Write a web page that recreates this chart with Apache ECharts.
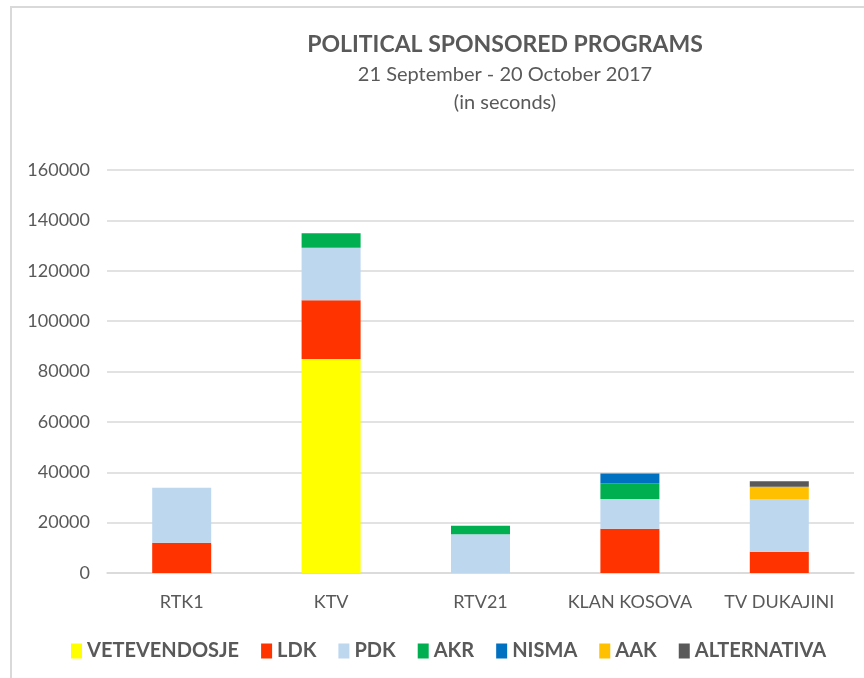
<!DOCTYPE html>
<html><head><meta charset="utf-8">
<script src="https://cdn.jsdelivr.net/npm/echarts@6/dist/echarts.min.js"></script>
<style>html,body{margin:0;padding:0;background:#fff}#c{width:864px;height:678px}</style>
</head><body><div id="c"></div>
<script>
const categories = ['RTK1', 'KTV', 'RTV21', 'KLAN KOSOVA', 'TV DUKAJINI'];
const vetevendosje = [0, 85000, 0, 0, 0];
const ldk = [12000, 23300, 0, 17600, 8400];
const pdk = [21800, 20800, 15400, 11800, 21000];
const akr = [0, 5800, 3400, 6200, 0];
const nisma = [0, 0, 0, 3900, 0];
const aak = [0, 0, 0, 0, 4800];
const alternativa = [0, 0, 0, 0, 2200];
const yTicks = [0, 20000, 40000, 60000, 80000, 100000, 120000, 140000, 160000];

const seriesDefs = [
  ['VETEVENDOSJE', vetevendosje, '#FFFF00'],
  ['LDK', ldk, '#FF3300'],
  ['PDK', pdk, '#BDD7EE'],
  ['AKR', akr, '#00B050'],
  ['NISMA', nisma, '#0070C0'],
  ['AAK', aak, '#FFC000'],
  ['ALTERNATIVA', alternativa, '#595959']
];
const font = 'Lato, "Open Sans", sans-serif';
const chart = echarts.init(document.getElementById('c'));
chart.setOption({
  animation: false,
  backgroundColor: '#fff',
  textStyle: { fontFamily: font },
  graphic: [{
    type: 'rect', shape: { x: 11, y: 7, width: 900, height: 720 },
    style: { fill: 'none', stroke: '#d9d9d9', lineWidth: 2 }, z: -1
  }],
  title: [
    { text: 'POLITICAL SPONSORED PROGRAMS', left: 500, top: 28, textAlign: 'center',
      textStyle: { fontSize: 23, fontWeight: 'bold', color: '#595959', fontFamily: font } },
    { text: '21 September - 20 October 2017', left: 500, top: 60, textAlign: 'center',
      textStyle: { fontSize: 20, fontWeight: 'normal', color: '#595959', fontFamily: font } },
    { text: '(in seconds)', left: 500, top: 88, textAlign: 'center',
      textStyle: { fontSize: 20, fontWeight: 'normal', color: '#595959', fontFamily: font } }
  ],
  legend: {
    bottom: 12, left: 66, itemWidth: 11, itemHeight: 15, itemGap: 22,
    icon: 'rect',
    textStyle: { fontSize: 20, fontWeight: 'bold', color: '#595959', fontFamily: font, padding: [0, 0, 0, 0] },
    data: seriesDefs.map(s => s[0])
  },
  grid: { left: 107, right: 10, top: 170, bottom: 105, containLabel: false },
  xAxis: {
    type: 'category', data: categories,
    axisLine: { lineStyle: { color: '#d9d9d9', width: 1.5 } },
    axisTick: { show: false },
    axisLabel: { fontSize: 18, color: '#595959', margin: 20, fontFamily: font, interval: 0 }
  },
  yAxis: {
    type: 'value', min: yTicks[0], max: yTicks[yTicks.length - 1], interval: 20000,
    axisLine: { show: false }, axisTick: { show: false },
    splitLine: { lineStyle: { color: '#d9d9d9', width: 1.5 } },
    axisLabel: { fontSize: 18, color: '#595959', margin: 17, fontFamily: font,
      formatter: v => String(v) }
  },
  series: seriesDefs.map(s => ({
    name: s[0], type: 'bar', stack: 'total', data: s[1],
    barWidth: 59,
    itemStyle: { color: s[2] }
  }))
});
</script></body></html>
